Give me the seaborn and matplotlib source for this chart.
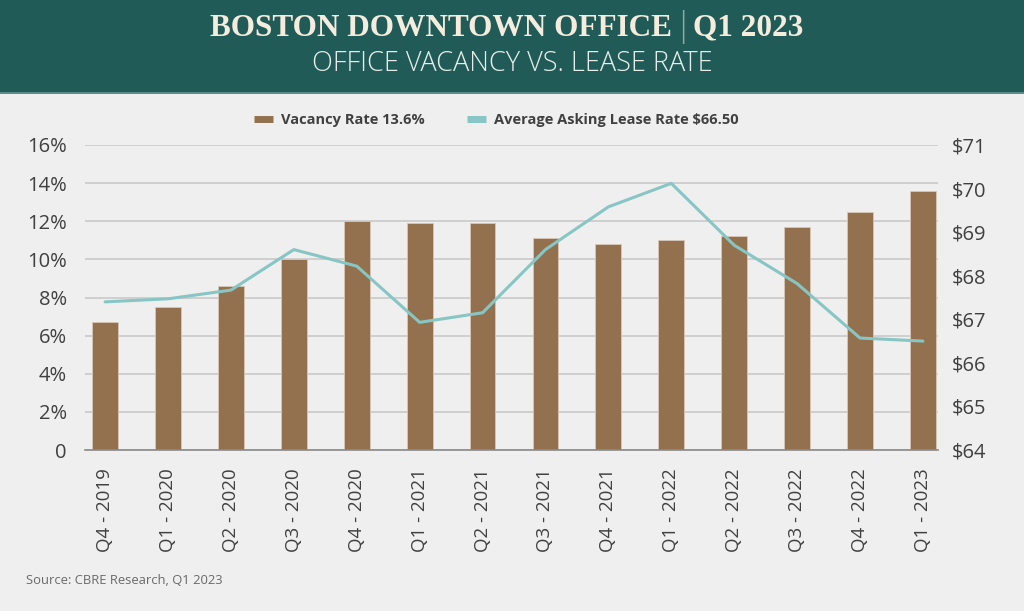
import numpy as np
import pandas as pd
import matplotlib.pyplot as plt
import seaborn as sns
from matplotlib.patches import Rectangle
from matplotlib.lines import Line2D

# ---------------- data ----------------
quarters = ['Q4 - 2019', 'Q1 - 2020', 'Q2 - 2020', 'Q3 - 2020', 'Q4 - 2020',
            'Q1 - 2021', 'Q2 - 2021', 'Q3 - 2021', 'Q4 - 2021', 'Q1 - 2022',
            'Q2 - 2022', 'Q3 - 2022', 'Q4 - 2022', 'Q1 - 2023']
vacancy = [6.7, 7.5, 8.6, 10.0, 12.0, 11.9, 11.9, 11.1, 10.8, 11.0, 11.2, 11.7, 12.5, 13.6]
lease = [67.40, 67.47, 67.67, 68.60, 68.22, 66.93, 67.15, 68.60, 69.58, 70.12,
         68.70, 67.82, 66.57, 66.50]
vac_ticks = [0, 2, 4, 6, 8, 10, 12, 14, 16]
vac_labels = ['0'] + [f'{v}%' for v in vac_ticks[1:]]
lease_ticks = [64, 65, 66, 67, 68, 69, 70, 71]
lease_labels = [f'${v}' for v in lease_ticks]

df = pd.DataFrame({'quarter': quarters, 'vacancy': vacancy, 'lease': lease})
df['pos'] = range(len(df))

# ---------------- style ----------------
BG = '#EFEFEF'
HEADER = '#215B57'
CREAM = '#F4ECDD'
BAR = '#93714F'
LINE = '#87C6C4'
TXT = '#404040'
GRID = '#C9C9C9'

sns.set_theme(style='white')
plt.rcParams['font.family'] = ['Open Sans', 'DejaVu Sans']

fig = plt.figure(figsize=(10.24, 6.11), dpi=100, facecolor=BG)

# header band
fig.patches.append(Rectangle((0, 1 - 92 / 611), 1, 92 / 611, transform=fig.transFigure,
                             facecolor=HEADER, edgecolor='none', zorder=0))
fig.patches.append(Rectangle((0, 1 - 94 / 611), 1, 2 / 611, transform=fig.transFigure,
                             facecolor='#5E8C88', edgecolor='none', zorder=0))
serif = ['Liberation Serif', 'DejaVu Serif']
fig.text(672 / 1024, 1 - 28 / 611, 'BOSTON DOWNTOWN OFFICE', ha='right', va='center',
         fontsize=22.5, fontweight='bold', color=CREAM, family=serif)
fig.text(683 / 1024, 1 - 27 / 611, '|', ha='center', va='center',
         fontsize=24, fontweight='light', color='#8FAAA5', family=['DejaVu Sans'])
fig.text(693 / 1024, 1 - 28 / 611, 'Q1 2023', ha='left', va='center',
         fontsize=22.5, fontweight='bold', color=CREAM, family=serif)
fig.text(0.5, 1 - 64 / 611, 'OFFICE VACANCY VS. LEASE RATE', ha='center', va='center',
         fontsize=19.5, fontweight='light', color='#E6EEEC')

# ---------------- chart ----------------
ax = fig.add_axes([85 / 1024, 1 - 450 / 611, (938 - 85) / 1024, 305 / 611])
ax.set_facecolor(BG)
sns.barplot(data=df, x='pos', y='vacancy', color=BAR, width=0.41, saturation=1,
            edgecolor='#D8C8B8', linewidth=0.6, ax=ax, zorder=2)
ax.set_ylim(0, 16)
ax.set_yticks(vac_ticks)
ax.set_yticklabels(vac_labels)
ax.set_xlim(-0.32, len(quarters) - 0.76)
ax.set_xticks(df['pos'])
ax.set_xticklabels(quarters, rotation=90)
ax.yaxis.grid(True, color=GRID, linewidth=1.2, zorder=0)
ax.set_axisbelow(True)
ax.set_xlabel('')
ax.set_ylabel('')
for s in ['top', 'right', 'left']:
    ax.spines[s].set_visible(False)
ax.spines['bottom'].set_color('#8A8A8A')
ax.spines['bottom'].set_linewidth(1.2)
ax.tick_params(axis='y', length=0, labelsize=14.5, labelcolor=TXT, pad=13)
ax.tick_params(axis='x', length=0, labelsize=13.5, labelcolor=TXT, pad=13)

ax2 = ax.twinx()
sns.lineplot(data=df, x='pos', y='lease', color=LINE, linewidth=2.2, ax=ax2, zorder=3)
ax2.set_ylim(64, 71)
ax2.set_yticks(lease_ticks)
ax2.set_yticklabels(lease_labels)
ax2.set_ylabel('')
for s in ['top', 'right', 'left', 'bottom']:
    ax2.spines[s].set_visible(False)
ax2.tick_params(axis='y', length=0, labelsize=14.5, labelcolor=TXT, pad=10)

# legend
handles = [Line2D([0], [0], color=BAR, linewidth=5, solid_capstyle='butt'),
           Line2D([0], [0], color=LINE, linewidth=5, solid_capstyle='butt')]
fig.legend(handles, ['Vacancy Rate 13.6%', 'Average Asking Lease Rate $66.50'],
           loc='center', bbox_to_anchor=(496 / 1024, 1 - 120 / 611), ncol=2, frameon=False,
           prop={'size': 10.5, 'weight': 'bold'}, labelcolor=TXT, handlelength=1.3,
           columnspacing=2.9, handletextpad=0.55)

fig.text(26 / 1024, 1 - 580 / 611, 'Source: CBRE Research, Q1 2023', ha='left', va='center',
         fontsize=9.4, color='#6A6A6A')

fig.savefig('out.png', dpi=100, facecolor=BG)
